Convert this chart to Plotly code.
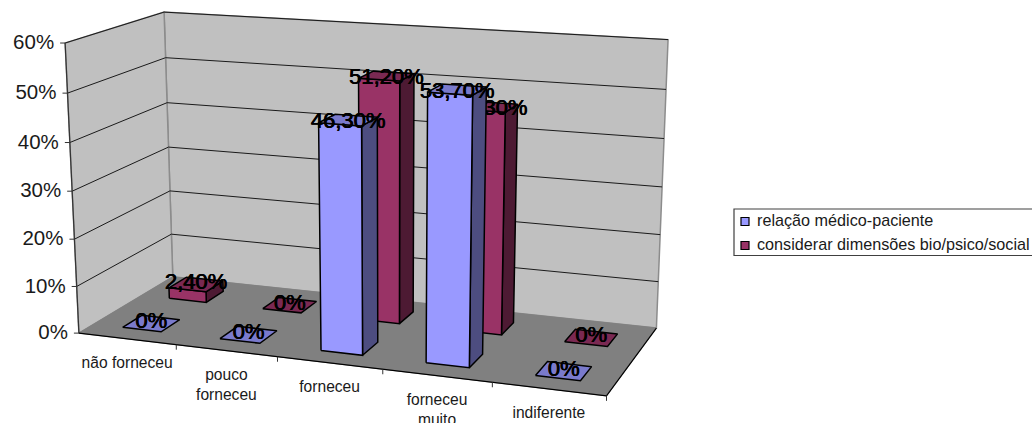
import numpy as np
import plotly.graph_objects as go

categories = ["não forneceu", "pouco<br>forneceu", "forneceu", "forneceu<br>muito", "indiferente"]
series_names = ["relação médico-paciente", "considerar dimensões bio/psico/social"]
relacao_values = [0, 0, 46.3, 53.7, 0]
dimensoes_values = [2.4, 0, 51.2, 46.3, 0]
percent_ticks = [0, 10, 20, 30, 40, 50, 60]

# Per-series palette: front face, side face, top face
BLUE = ("#9999FF", "#4D4D80", "#7A7ACC")
WINE = ("#993366", "#4D1A33", "#7A2952")
WALL = "#C0C0C0"
FLOOR = "#808080"

# Box model: u along categories (0-5), v in depth (0-1), z in percent (0-60).
# Anchor pairs tie the box corners to the page, and a least-squares
# camera matrix is solved from them.
anchors = [
    ((0, 0, 0), (79, 332.3)), ((1, 0, 0), (176.7, 344.2)), ((2, 0, 0), (278, 356.6)),
    ((3, 0, 0), (382, 369.3)), ((4, 0, 0), (492, 382.7)), ((5, 0, 0), (606.7, 396.7)),
    ((0, 0, 60), (65, 42.7)), ((0, 0, 10), (76.7, 287)),
    ((0, 1, 0), (172.7, 278)), ((0, 1, 10), (171, 234)), ((0, 1, 60), (164.3, 12)),
    ((5, 1, 0), (656.7, 326.7)), ((5, 1, 60), (668, 40)),
]


def solve_camera(pairs):
    rows = []
    for (u, v, z), (px, py) in pairs:
        rows.append([u, v, z, 1, 0, 0, 0, 0, -px * u, -px * v, -px * z, -px])
        rows.append([0, 0, 0, 0, u, v, z, 1, -py * u, -py * v, -py * z, -py])
    _, _, vt = np.linalg.svd(np.array(rows, dtype=float))
    return vt[-1].reshape(3, 4)


CAM = solve_camera(anchors)


def project(u, v, z):
    x, y, w = CAM @ np.array([u, v, z, 1.0])
    return x / w, y / w


fig = go.Figure()


def polygon(corners, fill, line="#000000", width=1.5):
    pts = [project(*c) for c in corners] + [project(*corners[0])]
    fig.add_trace(go.Scatter(
        x=[p[0] for p in pts], y=[p[1] for p in pts], mode="lines",
        fill="toself", fillcolor=fill, line=dict(color=line, width=width),
        showlegend=False, hoverinfo="skip"))


def segment(a, b, color, width=1.0):
    pa, pb = project(*a), project(*b)
    fig.add_trace(go.Scatter(
        x=[pa[0], pb[0]], y=[pa[1], pb[1]], mode="lines",
        line=dict(color=color, width=width), showlegend=False, hoverinfo="skip"))


def label(x, y, text, size, position="middle center", color="#000000", shadow=None):
    font = dict(family="Liberation Sans, Arial, sans-serif", size=size, color=color)
    if shadow:
        font["shadow"] = shadow
    fig.add_trace(go.Scatter(
        x=[x], y=[y], mode="text", text=[text], textposition=position,
        textfont=font, showlegend=False, hoverinfo="skip", cliponaxis=False))


# Walls and floor
polygon([(0, 1, 0), (5, 1, 0), (5, 1, 60), (0, 1, 60)], WALL, "#8C8C8C", 1.5)
polygon([(0, 0, 0), (0, 1, 0), (0, 1, 60), (0, 0, 60)], WALL, "#8C8C8C", 1.5)
polygon([(0, 0, 0), (5, 0, 0), (5, 1, 0), (0, 1, 0)], FLOOR, FLOOR, 1)

for pct in percent_ticks[1:]:
    segment((0, 0, pct), (0, 1, pct), "#1A1A1A", 1)
    segment((0, 1, pct), (5, 1, pct), "#1A1A1A", 1)

# Axis lines, ticks and tick labels
segment((0, 0, 0), (0, 0, 60), "#333333", 1.2)
segment((0, 0, 0), (5, 0, 0), "#000000", 1.2)
segment((5, 0, 0), (5, 1, 0), "#000000", 1.2)
for pct in percent_ticks:
    x, y = project(0, 0, pct)
    fig.add_trace(go.Scatter(x=[x - 5, x], y=[y, y], mode="lines",
                             line=dict(color="#333333", width=1),
                             showlegend=False, hoverinfo="skip"))
    label(x - 11, y + 1, f"{pct}%", 20.5, "middle left", "#1A1A1A")

for i, name in enumerate(categories):
    x, y = project(i + 1, 0, 0)
    fig.add_trace(go.Scatter(x=[x, x], y=[y, y + 5], mode="lines",
                             line=dict(color="#333333", width=1),
                             showlegend=False, hoverinfo="skip"))
    cx, cy = project(i + 0.5, 0, 0)
    label(cx, cy + 17.5, name, 15.6, "bottom center", "#1A1A1A")


def draw_bar(index, value, v0, v1, palette):
    u0, u1 = index + 0.3, index + 0.7
    if value > 0:
        polygon([(u1, v0, 0), (u1, v1, 0), (u1, v1, value), (u1, v0, value)], palette[1])
        polygon([(u0, v0, 0), (u1, v0, 0), (u1, v0, value), (u0, v0, value)], palette[0])
    polygon([(u0, v0, value), (u1, v0, value), (u1, v1, value), (u0, v1, value)], palette[2])
    x, y = project((u0 + u1) / 2, (v0 + v1) / 2, value)
    text = f"{value:.2f}".replace(".", ",") + "%" if value else "0%"
    # Tall bars carry their label a little lower on the top face
    label(x, y - 1 + value * 0.07, text, 22, shadow="0.4px 0 0 #000, -0.4px 0 0 #000")


# Rear row first so the front row overlaps it
for i, val in enumerate(dimensoes_values):
    draw_bar(i, val, 0.65, 0.85, WINE)
for i, val in enumerate(relacao_values):
    draw_bar(i, val, 0.15, 0.35, BLUE)

# Key on the right-hand side
key_rows = [221.5, 245.5]
for name, row, colour in zip(series_names, key_rows, (BLUE[0], WINE[0])):
    fig.add_trace(go.Scatter(
        x=[745], y=[row], mode="markers",
        marker=dict(symbol="square", size=8, color=colour, line=dict(color="#000000", width=1.2)),
        showlegend=False, hoverinfo="skip"))
    label(757, row, name, 16.2, "middle right", "#1A1A1A")

fig.update_layout(
    width=1032, height=423, autosize=False,
    margin=dict(l=0, r=0, t=0, b=0),
    paper_bgcolor="#FFFFFF", plot_bgcolor="#FFFFFF",
    xaxis=dict(range=[0, 1032], visible=False, fixedrange=True),
    yaxis=dict(range=[423, 0], visible=False, fixedrange=True),
    showlegend=False,
    shapes=[dict(type="rect", xref="x", yref="y", x0=734, x1=1060, y0=209, y1=255.5,
                 line=dict(color="#404040", width=1.2), fillcolor="rgba(0,0,0,0)", layer="below")],
)

fig.write_html("out.html", config=dict(displayModeBar=False))
